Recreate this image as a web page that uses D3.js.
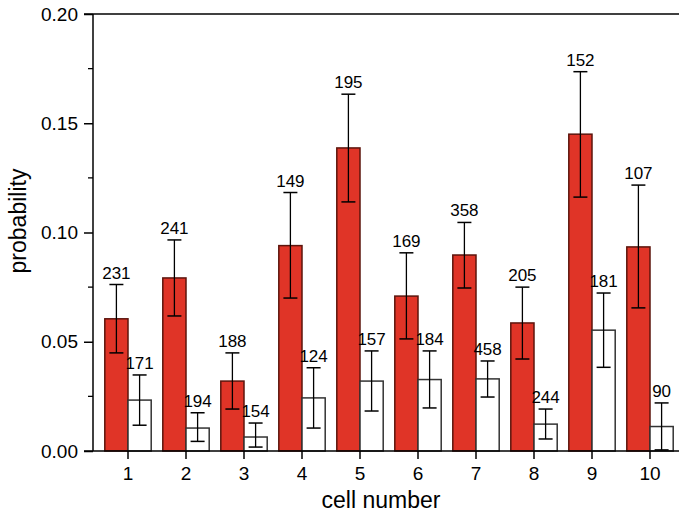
<!DOCTYPE html>
<html>
<head>
<meta charset="utf-8">
<script src="https://cdn.jsdelivr.net/npm/d3@7.9.0/dist/d3.min.js"></script>
<style>
  html, body { margin: 0; padding: 0; background: #fff; }
  svg { display: block; font-family: Arial, "Liberation Sans", sans-serif; }
</style>
</head>
<body>
<svg id="chart" width="679" height="516"></svg>
<script>
// cell numbers on the x axis
const cells = [1, 2, 3, 4, 5, 6, 7, 8, 9, 10];

// red bars: probability, error low / high, count label
const redValues = [0.0605, 0.0792, 0.0320, 0.0940, 0.1387, 0.0709, 0.0897, 0.0586, 0.1450, 0.0934];
const redLow    = [0.0449, 0.0618, 0.0192, 0.0700, 0.1140, 0.0513, 0.0746, 0.0421, 0.1162, 0.0655];
const redHigh   = [0.0762, 0.0966, 0.0449, 0.1183, 0.1633, 0.0907, 0.1046, 0.0750, 0.1736, 0.1217];
const redCounts = [231, 241, 188, 149, 195, 169, 358, 205, 152, 107];

// white bars
const whiteValues = [0.0233, 0.0105, 0.0064, 0.0243, 0.0320, 0.0327, 0.0330, 0.0123, 0.0553, 0.0112];
const whiteLow    = [0.0118, 0.0044, 0.0018, 0.0105, 0.0183, 0.0197, 0.0247, 0.0055, 0.0383, 0.0005];
const whiteHigh   = [0.0348, 0.0175, 0.0128, 0.0381, 0.0458, 0.0458, 0.0412, 0.0192, 0.0723, 0.0220];
const whiteCounts = [171, 194, 154, 124, 157, 184, 458, 244, 181, 90];

const yTicks = [0, 0.05, 0.10, 0.15, 0.20];

const svg = d3.select('#chart');
const plotLeft = 93, plotRight = 679, plotTop = 14, plotBottom = 451;

const x = d3.scaleBand()
  .domain(cells)
  .range([99, 679])
  .paddingInner(0.2)
  .paddingOuter(0.1);

const sub = d3.scaleBand()
  .domain(['red', 'white'])
  .range([0, x.bandwidth()]);

const y = d3.scaleLinear().domain([0, 0.20]).range([plotBottom, plotTop]);

const series = [
  { key: 'red', values: redValues, low: redLow, high: redHigh, counts: redCounts, fill: '#e03427', stroke: '#5c150d' },
  { key: 'white', values: whiteValues, low: whiteLow, high: whiteHigh, counts: whiteCounts, fill: '#ffffff', stroke: '#333333' }
];

// bars
series.forEach(s => {
  const g = svg.append('g');
  cells.forEach((c, i) => {
    const x0 = x(c) + sub(s.key);
    const cx = x0 + sub.bandwidth() / 2;
    g.append('rect')
      .attr('x', x0)
      .attr('y', y(s.values[i]))
      .attr('width', sub.bandwidth())
      .attr('height', y(0) - y(s.values[i]))
      .attr('fill', s.fill)
      .attr('stroke', s.stroke)
      .attr('stroke-width', 1.5);
    // error bar
    g.append('line')
      .attr('x1', cx).attr('x2', cx)
      .attr('y1', y(s.low[i])).attr('y2', y(s.high[i]))
      .attr('stroke', '#000').attr('stroke-width', 1.3);
    [s.low[i], s.high[i]].forEach(v => {
      g.append('line')
        .attr('x1', cx - 7).attr('x2', cx + 7)
        .attr('y1', y(v)).attr('y2', y(v))
        .attr('stroke', '#000').attr('stroke-width', 1.5);
    });
    g.append('text')
      .attr('x', cx)
      .attr('y', y(s.high[i]) - 6)
      .attr('text-anchor', 'middle')
      .attr('font-size', 17)
      .text(s.counts[i]);
  });
});

// y axis
const yAxis = svg.append('g')
  .attr('transform', `translate(${plotLeft},0)`)
  .call(d3.axisLeft(y).tickValues(yTicks).tickFormat(d3.format('.2f')).tickSize(9).tickPadding(6));
yAxis.select('.domain').remove();
svg.append('line')
  .attr('x1', plotLeft).attr('x2', plotLeft).attr('y1', plotTop).attr('y2', plotBottom)
  .attr('stroke', '#000').attr('stroke-width', 1.5);
// minor ticks
const minor = d3.range(0.025, 0.2, 0.05);
svg.append('g').selectAll('line').data(minor).join('line')
  .attr('x1', plotLeft - 5).attr('x2', plotLeft)
  .attr('y1', d => y(d)).attr('y2', d => y(d))
  .attr('stroke', '#000').attr('stroke-width', 1.3);

// top frame line
svg.append('line')
  .attr('x1', plotLeft - 9).attr('x2', plotRight).attr('y1', plotTop).attr('y2', plotTop)
  .attr('stroke', '#000').attr('stroke-width', 1.5);

// x axis
const xAxis = svg.append('g')
  .attr('transform', `translate(0,${plotBottom})`)
  .call(d3.axisBottom(x).tickSize(8).tickPadding(8));
xAxis.select('.domain').remove();
svg.append('line')
  .attr('x1', plotLeft - 9).attr('x2', plotRight).attr('y1', plotBottom).attr('y2', plotBottom)
  .attr('stroke', '#000').attr('stroke-width', 1.5);

svg.selectAll('.tick line').attr('stroke', '#000').attr('stroke-width', 1.5);
svg.selectAll('.tick text')
  .attr('fill', '#000')
  .attr('font-size', 19)
  .attr('font-family', 'Arial, "Liberation Sans", sans-serif');

// axis titles
svg.append('text')
  .attr('x', 381).attr('y', 508)
  .attr('text-anchor', 'middle')
  .attr('font-size', 23)
  .text('cell number');

svg.append('text')
  .attr('transform', 'translate(26,221) rotate(-90)')
  .attr('text-anchor', 'middle')
  .attr('font-size', 23)
  .text('probability');
</script>
</body>
</html>
